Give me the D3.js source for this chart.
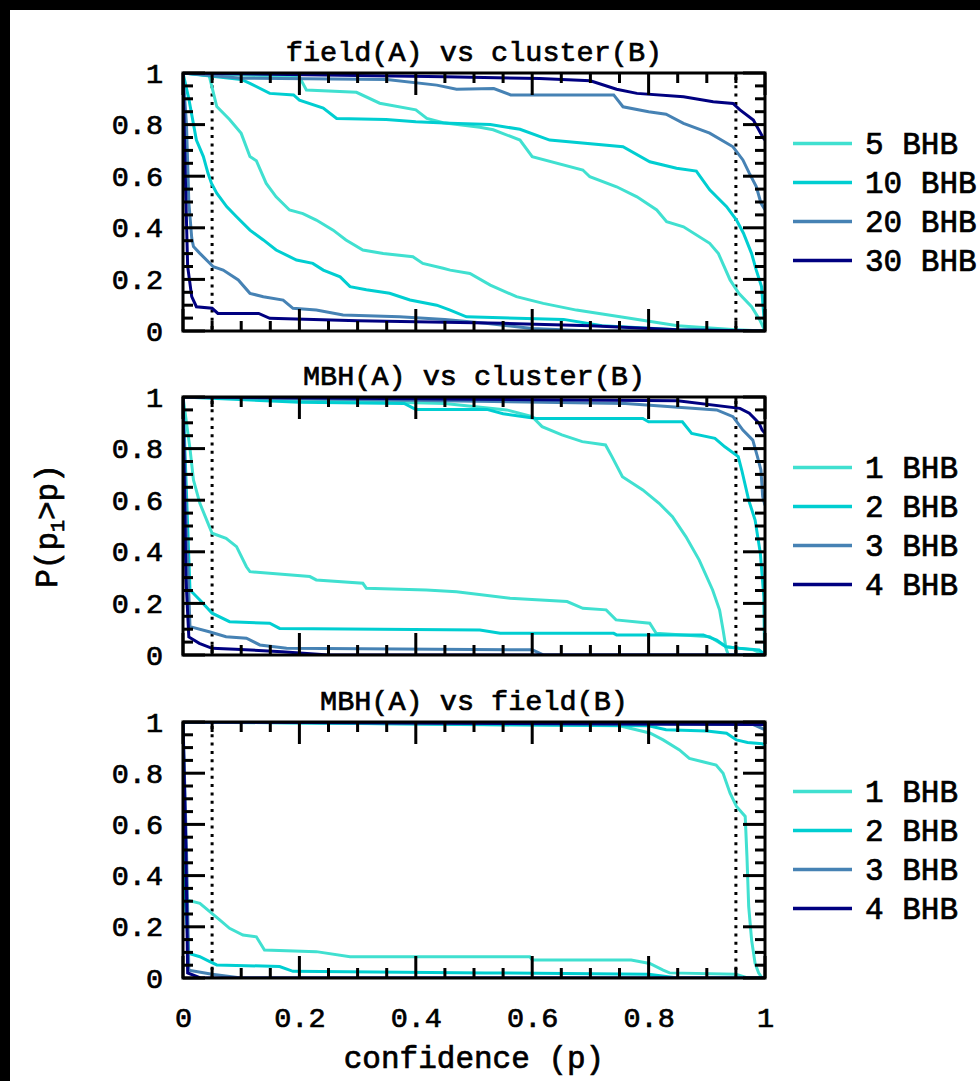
<!DOCTYPE html>
<html><head><meta charset="utf-8">
<script src="https://cdn.jsdelivr.net/npm/d3@7"></script>
<style>body{margin:0;background:#000;} svg{display:block} text{stroke:#000;stroke-width:0.7px;}</style>
</head><body>
<svg id="c" width="980" height="1081"></svg>
<script>
// ---------- DATA ----------
const panelTitles = ["field(A) vs cluster(B)", "MBH(A) vs cluster(B)", "MBH(A) vs field(B)"];
const legendLabels1 = ["5 BHB", "10 BHB", "20 BHB", "30 BHB"];
const legendLabels2 = ["1 BHB", "2 BHB", "3 BHB", "4 BHB"];
const legendLabels3 = ["1 BHB", "2 BHB", "3 BHB", "4 BHB"];
const seriesColors = ["#40E0D0", "#00CED1", "#4682B4", "#000080"];
const xTickValues = [0, 0.2, 0.4, 0.6, 0.8, 1];
const yTickValues = [0, 0.2, 0.4, 0.6, 0.8, 1];
const minorTickValues = [0, 0.05, 0.1, 0.15, 0.2, 0.25, 0.3, 0.35, 0.4, 0.45, 0.5, 0.55, 0.6, 0.65, 0.7, 0.75, 0.8, 0.85, 0.9, 0.95, 1];
const dottedLines = [0.05, 0.95];
const xLabel = "confidence (p)";

// Panel 1: field(A) vs cluster(B)  [p, P(p1>p)]
const fc5Upper = [[0,1],[0.2,0.985],[0.212,0.934],[0.298,0.925],[0.338,0.883],[0.40,0.857],[0.419,0.824],[0.447,0.807],[0.51,0.79],[0.533,0.78],[0.579,0.74],[0.60,0.676],[0.687,0.624],[0.699,0.598],[0.745,0.559],[0.78,0.52],[0.814,0.469],[0.831,0.424],[0.86,0.404],[0.905,0.34],[0.92,0.30],[0.94,0.198],[0.955,0.146],[0.977,0.094],[0.991,0.043],[1,0]];
const fc10Upper = [[0,1],[0.1,0.975],[0.115,0.96],[0.149,0.921],[0.19,0.915],[0.2,0.895],[0.241,0.864],[0.264,0.824],[0.349,0.82],[0.40,0.811],[0.459,0.805],[0.528,0.80],[0.579,0.782],[0.63,0.74],[0.756,0.714],[0.802,0.656],[0.848,0.631],[0.882,0.62],[0.905,0.547],[0.934,0.482],[0.951,0.43],[0.963,0.379],[0.977,0.30],[0.985,0.236],[0.994,0.172],[0.998,0.06],[1,0]];
const fc20Upper = [[0,1],[0.1,0.98],[0.35,0.975],[0.436,0.953],[0.47,0.937],[0.534,0.94],[0.563,0.915],[0.74,0.915],[0.756,0.869],[0.80,0.85],[0.83,0.84],[0.86,0.805],[0.905,0.767],[0.945,0.714],[0.962,0.663],[0.973,0.612],[0.985,0.56],[0.993,0.496],[1,0.47]];
const fc30Upper = [[0,1],[0.45,0.985],[0.613,0.979],[0.70,0.97],[0.745,0.937],[0.78,0.921],[0.86,0.908],[0.911,0.889],[0.945,0.882],[0.957,0.857],[0.98,0.818],[0.997,0.748],[1,0.74]];
const fc5Lower = [[0,1],[0.045,0.99],[0.058,0.87],[0.08,0.82],[0.1,0.766],[0.115,0.676],[0.126,0.66],[0.143,0.572],[0.16,0.52],[0.183,0.469],[0.206,0.455],[0.229,0.43],[0.258,0.391],[0.28,0.353],[0.309,0.314],[0.344,0.3],[0.395,0.288],[0.412,0.262],[0.447,0.243],[0.459,0.236],[0.493,0.223],[0.528,0.178],[0.573,0.133],[0.619,0.107],[0.676,0.081],[0.751,0.055],[0.85,0.02],[0.95,0.005],[1,0]];
const fc10Lower = [[0,1],[0.01,0.9],[0.023,0.74],[0.035,0.676],[0.043,0.611],[0.049,0.572],[0.058,0.534],[0.075,0.482],[0.092,0.443],[0.115,0.391],[0.138,0.353],[0.16,0.314],[0.195,0.275],[0.223,0.262],[0.241,0.236],[0.27,0.21],[0.287,0.172],[0.315,0.16],[0.355,0.146],[0.39,0.12],[0.436,0.10],[0.459,0.081],[0.487,0.055],[0.654,0.045],[0.72,0.02],[0.85,0.005],[1,0]];
const fc20Lower = [[0,1],[0.006,0.8],[0.01,0.5],[0.015,0.36],[0.018,0.327],[0.029,0.301],[0.052,0.249],[0.069,0.236],[0.095,0.198],[0.115,0.146],[0.138,0.133],[0.172,0.12],[0.189,0.088],[0.229,0.081],[0.275,0.062],[0.372,0.055],[0.45,0.045],[0.52,0.03],[0.6,0.01],[0.7,0],[1,0]];
const fc30Lower = [[0,1],[0.004,0.6],[0.008,0.25],[0.015,0.133],[0.023,0.094],[0.05,0.088],[0.06,0.068],[0.13,0.068],[0.149,0.049],[0.3,0.04],[0.55,0.03],[0.7,0.02],[0.85,0.005],[1,0]];

// Panel 2: MBH(A) vs cluster(B)
const mc1Upper = [[0,1],[0.45,0.975],[0.556,0.95],[0.6,0.924],[0.617,0.885],[0.651,0.853],[0.686,0.827],[0.726,0.814],[0.737,0.769],[0.755,0.691],[0.79,0.64],[0.818,0.588],[0.841,0.536],[0.864,0.459],[0.887,0.368],[0.91,0.252],[0.922,0.174],[0.928,0.097],[0.933,0.026],[0.937,0],[1,0]];
const mc2Upper = [[0,1],[0.2,0.98],[0.38,0.975],[0.40,0.952],[0.522,0.952],[0.55,0.935],[0.607,0.917],[0.79,0.917],[0.80,0.904],[0.858,0.904],[0.874,0.859],[0.914,0.84],[0.931,0.807],[0.954,0.769],[0.96,0.717],[0.972,0.60],[0.983,0.523],[0.992,0.394],[0.998,0.226],[0.999,0.06],[1,0]];
const mc3Upper = [[0,1],[0.76,0.975],[0.917,0.95],[0.945,0.924],[0.962,0.872],[0.979,0.833],[0.987,0.769],[0.993,0.717],[0.996,0.614],[1,0.58]];
const mc4Upper = [[0,1],[0.85,0.985],[0.957,0.956],[0.973,0.937],[0.99,0.898],[0.995,0.872],[1,0.86]];
const mc1Lower = [[0,1],[0.012,0.8],[0.018,0.678],[0.029,0.588],[0.043,0.51],[0.05,0.472],[0.074,0.452],[0.092,0.42],[0.109,0.342],[0.115,0.323],[0.218,0.304],[0.229,0.291],[0.309,0.278],[0.315,0.259],[0.418,0.252],[0.47,0.245],[0.562,0.22],[0.66,0.207],[0.687,0.181],[0.727,0.175],[0.744,0.136],[0.802,0.123],[0.813,0.084],[0.905,0.071],[0.933,0.032],[0.98,0.02],[1,0]];
const mc2Lower = [[0,1],[0.008,0.5],[0.012,0.252],[0.029,0.213],[0.05,0.162],[0.08,0.129],[0.149,0.123],[0.166,0.103],[0.51,0.097],[0.545,0.084],[0.74,0.084],[0.745,0.078],[0.894,0.078],[0.917,0.058],[0.933,0.032],[0.955,0.026],[0.99,0.02],[1,0]];
const mc3Lower = [[0,1],[0.006,0.5],[0.012,0.11],[0.045,0.09],[0.074,0.071],[0.109,0.065],[0.132,0.039],[0.178,0.026],[0.6,0.02],[0.62,0],[1,0]];
const mc4Lower = [[0,1],[0.005,0.3],[0.01,0.07],[0.028,0.045],[0.05,0.026],[0.09,0.022],[0.17,0.013],[0.25,0],[1,0]];

// Panel 3: MBH(A) vs field(B)
const mf1Upper = [[0,1],[0.75,0.985],[0.802,0.957],[0.825,0.93],[0.853,0.891],[0.87,0.858],[0.893,0.845],[0.916,0.832],[0.928,0.80],[0.94,0.722],[0.951,0.67],[0.966,0.631],[0.969,0.474],[0.972,0.279],[0.977,0.148],[0.983,0.057],[0.989,0.02],[0.995,0],[1,0]];
const mf2Upper = [[0,1],[0.8,0.985],[0.83,0.97],[0.9,0.965],[0.934,0.956],[0.951,0.93],[0.97,0.92],[0.995,0.915],[1,0.91]];
const mf3Upper = [[0,1],[0.98,0.99],[1,0.97]];
const mf4Upper = [[0,1],[1,0.99]];
const mf1Lower = [[0,1],[0.004,0.5],[0.006,0.305],[0.029,0.292],[0.046,0.259],[0.063,0.227],[0.08,0.194],[0.103,0.168],[0.126,0.161],[0.14,0.109],[0.229,0.103],[0.287,0.083],[0.596,0.083],[0.6,0.07],[0.77,0.07],[0.802,0.057],[0.825,0.031],[0.836,0.02],[0.95,0.015],[0.97,0],[1,0]];
const mf2Lower = [[0,1],[0.004,0.3],[0.01,0.096],[0.029,0.083],[0.046,0.064],[0.058,0.051],[0.166,0.045],[0.189,0.026],[0.52,0.02],[0.8,0.015],[0.85,0],[1,0]];
const mf3Lower = [[0,1],[0.006,0.5],[0.01,0.03],[0.05,0.015],[0.1,0],[1,0]];
const mf4Lower = [[0,1],[0.005,0.5],[0.008,0.02],[0.03,0],[1,0]];

const panelSeries = [
  [[fc5Upper, fc5Lower], [fc10Upper, fc10Lower], [fc20Upper, fc20Lower], [fc30Upper, fc30Lower]],
  [[mc1Upper, mc1Lower], [mc2Upper, mc2Lower], [mc3Upper, mc3Lower], [mc4Upper, mc4Lower]],
  [[mf1Upper, mf1Lower], [mf2Upper, mf2Lower], [mf3Upper, mf3Lower], [mf4Upper, mf4Lower]]
];
const panelLegends = [legendLabels1, legendLabels2, legendLabels3];

// ---------- LAYOUT ----------
const X0 = 183, X1 = 765;
const panelBox = [[73, 331], [397, 655], [722, 978]];
const FONT = "'Liberation Mono', 'DejaVu Sans Mono', monospace";
const FW = "normal";
const MAJOR = 22, MINOR = 10;

const svg = d3.select("#c");
svg.append("rect").attr("x", 10).attr("y", 10).attr("width", 970).attr("height", 1071).attr("fill", "#fff");

const x = d3.scaleLinear().domain([0, 1]).range([X0, X1]);
const isMajor = v => xTickValues.some(m => Math.abs(m - v) < 1e-6);
const fmt = d => (d === 0 ? "0" : d === 1 ? "1" : d3.format(".1f")(d));

const tickRects = [];

panelBox.forEach((box, pi) => {
  const [top, bot] = box;
  const y = d3.scaleLinear().domain([0, 1]).range([bot, top]);
  const g = svg.append("g");
  const clipId = "clip" + pi;
  svg.append("defs").append("clipPath").attr("id", clipId).append("rect")
    .attr("x", X0).attr("y", top).attr("width", X1 - X0).attr("height", bot - top);

  // dotted lines
  g.selectAll("line.dot").data(dottedLines).join("line").attr("class", "dot")
    .attr("x1", d => x(d)).attr("x2", d => x(d)).attr("y1", top + 4).attr("y2", bot)
    .attr("stroke", "#000").attr("stroke-width", 3).attr("stroke-dasharray", "3,5.3");

  // curves
  const line = d3.line().x(d => x(d[0])).y(d => y(d[1]));
  const cg = g.append("g").attr("clip-path", `url(#${clipId})`);
  panelSeries[pi].forEach((pair, si) => {
    pair.forEach(curve => {
      cg.append("path").datum(curve).attr("d", line).attr("fill", "none")
        .attr("stroke", seriesColors[si]).attr("stroke-width", 3)
        .attr("stroke-linejoin", "miter");
    });
  });

  // border
  g.append("rect").attr("x", X0).attr("y", top).attr("width", X1 - X0).attr("height", bot - top)
    .attr("fill", "none").attr("stroke", "#000").attr("stroke-width", 3);

  // inward ticks as filled rects positioned by the scales
  minorTickValues.forEach(v => {
    const L = isMajor(v) ? MAJOR : MINOR;
    const px = x(v), py = y(v);
    tickRects.push({x: px - 1.5, y: bot - L, w: 3, h: L});
    tickRects.push({x: px - 1.5, y: top, w: 3, h: L});
    tickRects.push({x: X0, y: py - 1.5, w: L, h: 3});
    tickRects.push({x: X1 - L, y: py - 1.5, w: L, h: 3});
  });

  // y tick labels
  const yl = g.append("g").attr("transform", `translate(${X0},0)`)
    .call(d3.axisLeft(y).tickValues(yTickValues).tickSize(0).tickPadding(20).tickFormat(fmt));
  yl.select(".domain").remove();
  yl.selectAll("text").attr("font-family", FONT).attr("font-size", 28.5).attr("font-weight", FW).attr("fill", "#000");

  // x tick labels only on the last panel
  if (pi === panelBox.length - 1) {
    const xl = g.append("g").attr("transform", `translate(0,${bot})`)
      .call(d3.axisBottom(x).tickValues(xTickValues).tickSize(0).tickPadding(29).tickFormat(fmt));
    xl.select(".domain").remove();
    xl.selectAll("text").attr("font-family", FONT).attr("font-size", 28.5).attr("font-weight", FW).attr("fill", "#000");
  }

  // title
  g.append("text").attr("x", (X0 + X1) / 2).attr("y", top - 12).attr("text-anchor", "middle")
    .attr("font-family", FONT).attr("font-size", 28.5).attr("font-weight", FW).text(panelTitles[pi]);

  // legend
  const mid = (top + bot) / 2;
  const labels = panelLegends[pi];
  const lg = g.append("g");
  labels.forEach((lab, i) => {
    const ly = mid + (i - (labels.length - 1) / 2) * 39;
    lg.append("line").attr("x1", 793).attr("x2", 852).attr("y1", ly).attr("y2", ly)
      .attr("stroke", seriesColors[i]).attr("stroke-width", 3.5);
    lg.append("text").attr("x", 865).attr("y", ly + 10).attr("font-family", FONT)
      .attr("font-size", 31).attr("font-weight", FW).text(lab);
  });
});

// ticks drawn last, on top of everything
svg.append("g").attr("class", "tickmarks").selectAll("rect").data(tickRects).join("rect")
  .attr("x", d => d.x).attr("y", d => d.y).attr("width", d => d.w).attr("height", d => d.h)
  .attr("fill", "#000");

// x axis label
svg.append("text").attr("x", (X0 + X1) / 2).attr("y", 1068).attr("text-anchor", "middle")
  .attr("font-family", FONT).attr("font-size", 31).attr("font-weight", FW).text(xLabel);

// y axis label
const yLab = svg.append("text").attr("transform", `translate(57,${(panelBox[1][0] + panelBox[1][1]) / 2}) rotate(-90)`)
  .attr("text-anchor", "middle").attr("font-family", FONT).attr("font-size", 31).attr("font-weight", FW);
yLab.append("tspan").text("P(p");
yLab.append("tspan").attr("font-size", 20).attr("dy", 7).text("1");
yLab.append("tspan").attr("dy", -7).text(">p)");
</script>
</body></html>
